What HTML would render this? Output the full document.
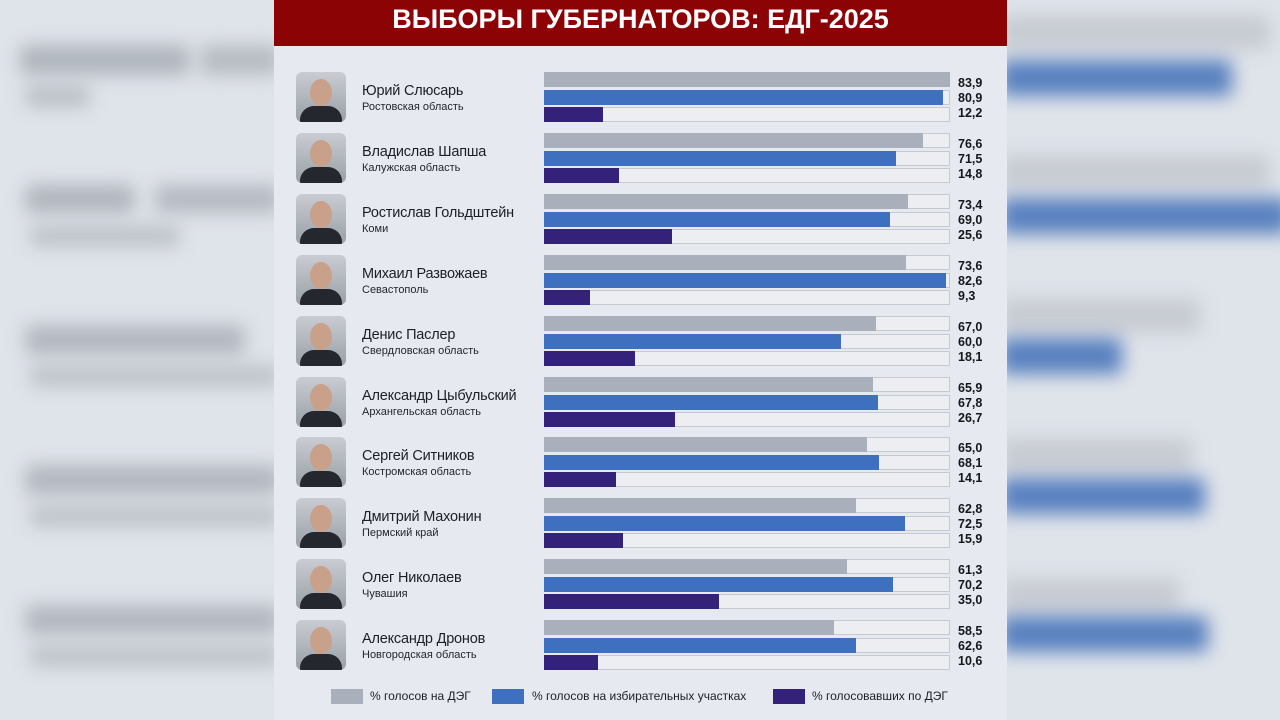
<!DOCTYPE html>
<html><head><meta charset="utf-8"><style>
*{margin:0;padding:0;box-sizing:border-box}
body{width:1280px;height:720px;overflow:hidden;background:#dfe3ea;font-family:"Liberation Sans",sans-serif;position:relative}
.bl{position:absolute;filter:blur(9px);border-radius:6px;opacity:.85}
#panel{position:absolute;left:274px;top:0;width:733px;height:720px;background:#e6e9ef}
#hdr{position:absolute;left:0;top:0;width:733px;height:46px;background:#8c0306;color:#fff;font-weight:bold;font-size:27px;text-align:center;line-height:38px;letter-spacing:0px}
.row{position:absolute;left:0;width:733px;height:52px}
.ph{position:absolute;left:22px;top:0;width:50px;height:50px;border-radius:6px;background:linear-gradient(180deg,#c9ccd2 0%,#9aa0a8 100%);overflow:hidden}
.ph::before{content:"";position:absolute;left:14px;top:7px;width:22px;height:27px;border-radius:50%;background:#c9a08a}
.ph::after{content:"";position:absolute;left:4px;top:34px;width:42px;height:22px;border-radius:14px 14px 0 0;background:#24272e}
.nm{position:absolute;left:88px;top:11px;font-size:14.5px;color:#1c1f26;white-space:nowrap;letter-spacing:-0.2px}
.rg{position:absolute;left:88px;top:29px;font-size:11px;color:#23262c;white-space:nowrap}
.tr{position:absolute;left:270px;width:406px;height:15px;background:#eceef2;border:1px solid #c6c9d0}
.tr i{position:absolute;left:-1px;top:-1px;height:15px;display:block}
.g{background:#a9b0bb}.b{background:#3f6fbf}.p{background:#33217a}
.v{position:absolute;left:684px;font-size:12.5px;font-weight:bold;color:#15171c}
.lg{position:absolute;top:689px;height:15px;width:32px}
.lt{position:absolute;top:689px;font-size:12px;color:#1c1f26;white-space:nowrap}
</style></head><body>
<div class="bl" style="left:20px;top:45px;width:170px;height:30px;background:#a8adb5"></div>
<div class="bl" style="left:200px;top:45px;width:80px;height:30px;background:#b0b5bc"></div>
<div class="bl" style="left:25px;top:85px;width:65px;height:22px;background:#b4b8bf"></div>
<div class="bl" style="left:25px;top:185px;width:110px;height:28px;background:#a8adb5"></div>
<div class="bl" style="left:155px;top:185px;width:125px;height:28px;background:#aeb2ba"></div>
<div class="bl" style="left:30px;top:225px;width:150px;height:22px;background:#b8bcc3"></div>
<div class="bl" style="left:25px;top:325px;width:220px;height:30px;background:#abb0b8"></div>
<div class="bl" style="left:30px;top:365px;width:250px;height:22px;background:#b8bcc3"></div>
<div class="bl" style="left:25px;top:465px;width:255px;height:30px;background:#abb0b8"></div>
<div class="bl" style="left:30px;top:505px;width:250px;height:22px;background:#b8bcc3"></div>
<div class="bl" style="left:25px;top:605px;width:255px;height:30px;background:#abb0b8"></div>
<div class="bl" style="left:30px;top:645px;width:250px;height:22px;background:#b8bcc3"></div>
<div class="bl" style="left:1000px;top:15px;width:270px;height:35px;background:#c3c7ce"></div>
<div class="bl" style="left:1000px;top:60px;width:232px;height:36px;background:#4270b8"></div>
<div class="bl" style="left:1000px;top:155px;width:270px;height:35px;background:#c3c7ce"></div>
<div class="bl" style="left:1000px;top:198px;width:290px;height:36px;background:#4270b8"></div>
<div class="bl" style="left:1000px;top:298px;width:200px;height:35px;background:#c3c7ce"></div>
<div class="bl" style="left:1000px;top:338px;width:122px;height:36px;background:#4270b8"></div>
<div class="bl" style="left:1000px;top:438px;width:192px;height:35px;background:#c3c7ce"></div>
<div class="bl" style="left:1000px;top:478px;width:205px;height:36px;background:#4270b8"></div>
<div class="bl" style="left:1000px;top:578px;width:180px;height:35px;background:#c3c7ce"></div>
<div class="bl" style="left:1000px;top:616px;width:208px;height:36px;background:#4270b8"></div>

<div id="panel">
<div id="hdr">ВЫБОРЫ ГУБЕРНАТОРОВ: ЕДГ-2025</div>

<div class="row" style="top:72px"><div class="ph"></div><div class="nm">Юрий Слюсарь</div><div class="rg">Ростовская область</div>
<div class="tr" style="top:0"><i class="g" style="width:406px"></i></div><div class="tr" style="top:18px"><i class="b" style="width:399px"></i></div><div class="tr" style="top:35px"><i class="p" style="width:59px"></i></div>
<div class="v" style="top:4px">83,9</div><div class="v" style="top:19px">80,9</div><div class="v" style="top:34px">12,2</div></div>

<div class="row" style="top:133px"><div class="ph"></div><div class="nm">Владислав Шапша</div><div class="rg">Калужская область</div>
<div class="tr" style="top:0"><i class="g" style="width:379px"></i></div><div class="tr" style="top:18px"><i class="b" style="width:352px"></i></div><div class="tr" style="top:35px"><i class="p" style="width:75px"></i></div>
<div class="v" style="top:4px">76,6</div><div class="v" style="top:19px">71,5</div><div class="v" style="top:34px">14,8</div></div>

<div class="row" style="top:194px"><div class="ph"></div><div class="nm">Ростислав Гольдштейн</div><div class="rg">Коми</div>
<div class="tr" style="top:0"><i class="g" style="width:364px"></i></div><div class="tr" style="top:18px"><i class="b" style="width:346px"></i></div><div class="tr" style="top:35px"><i class="p" style="width:128px"></i></div>
<div class="v" style="top:4px">73,4</div><div class="v" style="top:19px">69,0</div><div class="v" style="top:34px">25,6</div></div>

<div class="row" style="top:255px"><div class="ph"></div><div class="nm">Михаил Развожаев</div><div class="rg">Севастополь</div>
<div class="tr" style="top:0"><i class="g" style="width:362px"></i></div><div class="tr" style="top:18px"><i class="b" style="width:402px"></i></div><div class="tr" style="top:35px"><i class="p" style="width:46px"></i></div>
<div class="v" style="top:4px">73,6</div><div class="v" style="top:19px">82,6</div><div class="v" style="top:34px">9,3</div></div>

<div class="row" style="top:316px"><div class="ph"></div><div class="nm">Денис Паслер</div><div class="rg">Свердловская область</div>
<div class="tr" style="top:0"><i class="g" style="width:332px"></i></div><div class="tr" style="top:18px"><i class="b" style="width:297px"></i></div><div class="tr" style="top:35px"><i class="p" style="width:91px"></i></div>
<div class="v" style="top:4px">67,0</div><div class="v" style="top:19px">60,0</div><div class="v" style="top:34px">18,1</div></div>

<div class="row" style="top:377px"><div class="ph"></div><div class="nm">Александр Цыбульский</div><div class="rg">Архангельская область</div>
<div class="tr" style="top:0"><i class="g" style="width:329px"></i></div><div class="tr" style="top:18px"><i class="b" style="width:334px"></i></div><div class="tr" style="top:35px"><i class="p" style="width:131px"></i></div>
<div class="v" style="top:4px">65,9</div><div class="v" style="top:19px">67,8</div><div class="v" style="top:34px">26,7</div></div>

<div class="row" style="top:437px"><div class="ph"></div><div class="nm">Сергей Ситников</div><div class="rg">Костромская область</div>
<div class="tr" style="top:0"><i class="g" style="width:323px"></i></div><div class="tr" style="top:18px"><i class="b" style="width:335px"></i></div><div class="tr" style="top:35px"><i class="p" style="width:72px"></i></div>
<div class="v" style="top:4px">65,0</div><div class="v" style="top:19px">68,1</div><div class="v" style="top:34px">14,1</div></div>

<div class="row" style="top:498px"><div class="ph"></div><div class="nm">Дмитрий Махонин</div><div class="rg">Пермский край</div>
<div class="tr" style="top:0"><i class="g" style="width:312px"></i></div><div class="tr" style="top:18px"><i class="b" style="width:361px"></i></div><div class="tr" style="top:35px"><i class="p" style="width:79px"></i></div>
<div class="v" style="top:4px">62,8</div><div class="v" style="top:19px">72,5</div><div class="v" style="top:34px">15,9</div></div>

<div class="row" style="top:559px"><div class="ph"></div><div class="nm">Олег Николаев</div><div class="rg">Чувашия</div>
<div class="tr" style="top:0"><i class="g" style="width:303px"></i></div><div class="tr" style="top:18px"><i class="b" style="width:349px"></i></div><div class="tr" style="top:35px"><i class="p" style="width:175px"></i></div>
<div class="v" style="top:4px">61,3</div><div class="v" style="top:19px">70,2</div><div class="v" style="top:34px">35,0</div></div>

<div class="row" style="top:620px"><div class="ph"></div><div class="nm">Александр Дронов</div><div class="rg">Новгородская область</div>
<div class="tr" style="top:0"><i class="g" style="width:290px"></i></div><div class="tr" style="top:18px"><i class="b" style="width:312px"></i></div><div class="tr" style="top:35px"><i class="p" style="width:54px"></i></div>
<div class="v" style="top:4px">58,5</div><div class="v" style="top:19px">62,6</div><div class="v" style="top:34px">10,6</div></div>

<div class="lg g" style="left:57px"></div><div class="lt" style="left:96px">% голосов на ДЭГ</div>
<div class="lg b" style="left:218px"></div><div class="lt" style="left:258px">% голосов на избирательных участках</div>
<div class="lg p" style="left:499px"></div><div class="lt" style="left:538px">% голосовавших по ДЭГ</div>
</div>
</body></html>
